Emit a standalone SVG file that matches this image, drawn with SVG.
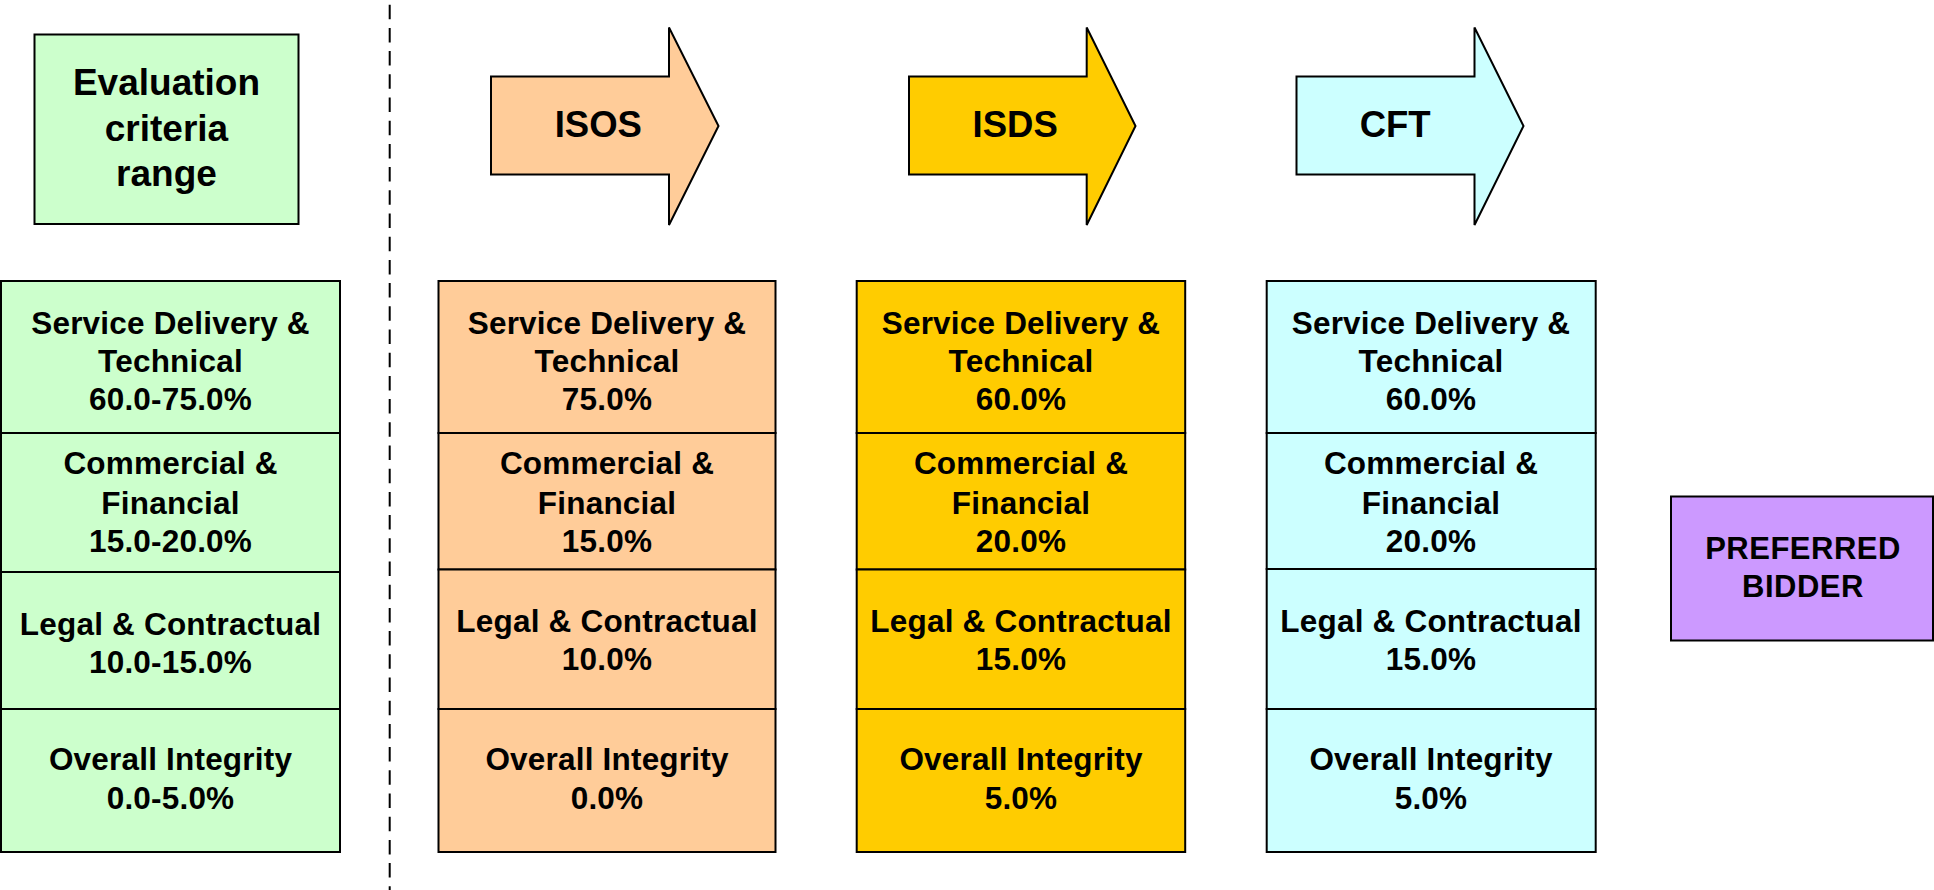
<svg xmlns="http://www.w3.org/2000/svg" width="1934" height="890" viewBox="0 0 1934 890">
<style>
  .box { stroke: #000; stroke-width: 2; }
  .t { font-family: "Liberation Sans", Arial, sans-serif; font-weight: bold; fill: #000; text-anchor: middle; }
  .cell { font-size: 31.5px; letter-spacing: 0.2px; }
  .hdr { font-size: 37px; }
  .arr { font-size: 36.5px; text-anchor: start; }
  .pb { font-size: 31px; letter-spacing: 0.5px; }
  .green { fill: #CCFFCC; }
  .orange { fill: #FFCC99; }
  .gold { fill: #FFCC00; }
  .cyan { fill: #CCFFFF; }
  .purple { fill: #CC99FF; }
  .divider { stroke: #000; stroke-width: 2; stroke-dasharray: 14.5 8.7; fill: none; }
</style>
<rect width="1934" height="890" fill="#fff"/>

<g id="connectors">
  <line class="divider" x1="389.7" y1="4.7" x2="389.7" y2="890"/>
</g>

<g id="eval-header">
  <rect class="box green" x="34.5" y="34.5" width="264" height="189.5"/>
  <text class="t hdr" x="166.5" y="95">Evaluation</text>
  <text class="t hdr" x="166.5" y="140.5">criteria</text>
  <text class="t hdr" x="166.5" y="186">range</text>
</g>

<g id="eval-table">
  <rect class="box green" x="1" y="281" width="339" height="152"/>
  <rect class="box green" x="1" y="433" width="339" height="139"/>
  <rect class="box green" x="1" y="572" width="339" height="137"/>
  <rect class="box green" x="1" y="709" width="339" height="143"/>
  <text class="t cell" x="170.5" y="333.5">Service Delivery &amp;</text>
  <text class="t cell" x="170.5" y="371.5">Technical</text>
  <text class="t cell" x="170.5" y="409.5">60.0-75.0%</text>
  <text class="t cell" x="170.5" y="474">Commercial &amp;</text>
  <text class="t cell" x="170.5" y="513.5">Financial</text>
  <text class="t cell" x="170.5" y="552">15.0-20.0%</text>
  <text class="t cell" x="170.5" y="634.5">Legal &amp; Contractual</text>
  <text class="t cell" x="170.5" y="673">10.0-15.0%</text>
  <text class="t cell" x="170.5" y="770">Overall Integrity</text>
  <text class="t cell" x="170.5" y="808.5">0.0-5.0%</text>
</g>

<g id="isos-arrow">
  <polygon class="box orange" points="491,76.5 669,76.5 669,27.5 718.5,126 669,225 669,174.5 491,174.5"/>
  <text class="t arr" x="554.7" y="137">ISOS</text>
</g>

<g id="isds-arrow">
  <polygon class="box gold" points="909,76.5 1086.7,76.5 1086.7,27.5 1135.5,126 1086.7,225 1086.7,174.5 909,174.5"/>
  <text class="t arr" x="972.6" y="137">ISDS</text>
</g>

<g id="cft-arrow">
  <polygon class="box cyan" points="1296.5,76.5 1474.5,76.5 1474.5,27.5 1523.5,126 1474.5,225 1474.5,174.5 1296.5,174.5"/>
  <text class="t arr" x="1359.7" y="137">CFT</text>
</g>

<g id="isos-table">
  <rect class="box orange" x="438.5" y="281" width="337" height="152"/>
  <rect class="box orange" x="438.5" y="433" width="337" height="136.5"/>
  <rect class="box orange" x="438.5" y="569.5" width="337" height="139.5"/>
  <rect class="box orange" x="438.5" y="709" width="337" height="143"/>
  <text class="t cell" x="607" y="333.5">Service Delivery &amp;</text>
  <text class="t cell" x="607" y="371.5">Technical</text>
  <text class="t cell" x="607" y="409.5">75.0%</text>
  <text class="t cell" x="607" y="474">Commercial &amp;</text>
  <text class="t cell" x="607" y="513.5">Financial</text>
  <text class="t cell" x="607" y="552">15.0%</text>
  <text class="t cell" x="607" y="631.5">Legal &amp; Contractual</text>
  <text class="t cell" x="607" y="669.5">10.0%</text>
  <text class="t cell" x="607" y="770">Overall Integrity</text>
  <text class="t cell" x="607" y="808.5">0.0%</text>
</g>

<g id="isds-table">
  <rect class="box gold" x="856.7" y="281" width="328.5" height="152"/>
  <rect class="box gold" x="856.7" y="433" width="328.5" height="136.5"/>
  <rect class="box gold" x="856.7" y="569.5" width="328.5" height="139.5"/>
  <rect class="box gold" x="856.7" y="709" width="328.5" height="143"/>
  <text class="t cell" x="1021" y="333.5">Service Delivery &amp;</text>
  <text class="t cell" x="1021" y="371.5">Technical</text>
  <text class="t cell" x="1021" y="409.5">60.0%</text>
  <text class="t cell" x="1021" y="474">Commercial &amp;</text>
  <text class="t cell" x="1021" y="513.5">Financial</text>
  <text class="t cell" x="1021" y="552">20.0%</text>
  <text class="t cell" x="1021" y="631.5">Legal &amp; Contractual</text>
  <text class="t cell" x="1021" y="669.5">15.0%</text>
  <text class="t cell" x="1021" y="770">Overall Integrity</text>
  <text class="t cell" x="1021" y="808.5">5.0%</text>
</g>

<g id="cft-table">
  <rect class="box cyan" x="1266.7" y="281" width="329" height="152"/>
  <rect class="box cyan" x="1266.7" y="433" width="329" height="136"/>
  <rect class="box cyan" x="1266.7" y="569" width="329" height="140"/>
  <rect class="box cyan" x="1266.7" y="709" width="329" height="143"/>
  <text class="t cell" x="1431" y="333.5">Service Delivery &amp;</text>
  <text class="t cell" x="1431" y="371.5">Technical</text>
  <text class="t cell" x="1431" y="409.5">60.0%</text>
  <text class="t cell" x="1431" y="474">Commercial &amp;</text>
  <text class="t cell" x="1431" y="513.5">Financial</text>
  <text class="t cell" x="1431" y="552">20.0%</text>
  <text class="t cell" x="1431" y="631.5">Legal &amp; Contractual</text>
  <text class="t cell" x="1431" y="669.5">15.0%</text>
  <text class="t cell" x="1431" y="770">Overall Integrity</text>
  <text class="t cell" x="1431" y="808.5">5.0%</text>
</g>

<g id="preferred-bidder">
  <rect class="box purple" x="1671" y="496.5" width="262" height="144"/>
  <text class="t pb" x="1803" y="559">PREFERRED</text>
  <text class="t pb" x="1803" y="597">BIDDER</text>
</g>
</svg>
